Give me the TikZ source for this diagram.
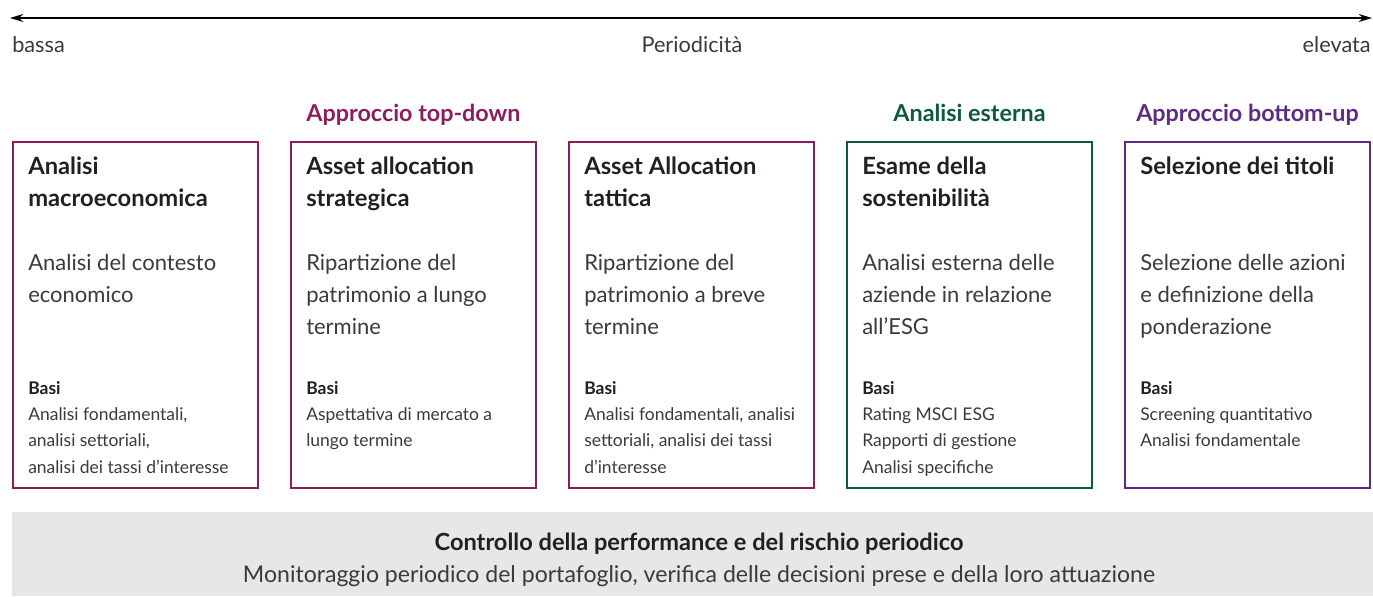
\documentclass[tikz,border=0pt]{standalone}
\usepackage{fontspec}
\setmainfont{Lato}
\usetikzlibrary{positioning,arrows.meta}
\definecolor{topdown}{HTML}{8C1D5B}
\definecolor{esterna}{HTML}{0B5A3D}
\definecolor{bottomup}{HTML}{5E2A84}
\definecolor{band}{HTML}{E6E7E8}
\definecolor{ink}{HTML}{231F20}
\definecolor{soft}{HTML}{3A3A3A}
\newcommand\righe[1]{\parbox[t]{200pt}{\raggedright #1}}
\begin{document}
\begin{tikzpicture}
[x=0.75pt,y=-0.75pt,
box/.style={draw=#1,line width=1.5pt,minimum width=183.75pt,minimum height=259.5pt,inner sep=0pt},
head/.style={text=#1,font=\fontsize{17.5}{24}\selectfont\bfseries,inner sep=0pt,anchor=base},
title/.style={text=ink,font=\fontsize{17.8}{24}\selectfont\bfseries,inner sep=0pt,anchor=base west},
desc/.style={text=soft,font=\fontsize{16.5}{24}\selectfont,inner sep=0pt,anchor=base west},
basi/.style={text=ink,font=\fontsize{13.1}{20}\selectfont\bfseries,inner sep=0pt,anchor=base west},
fonti/.style={text=soft,font=\fontsize{13.1}{20}\selectfont,inner sep=0pt,anchor=base west},
lab/.style={text=soft,font=\fontsize{16.3}{24}\selectfont,inner sep=0pt}]
\useasboundingbox (0,0) rectangle (1373,596);
% asse della periodicita
\coordinate (lo) at (10,18); \coordinate (hi) at (1372,18);
\draw[line width=1.1pt,{Stealth[length=10pt,width=6pt]}-{Stealth[length=10pt,width=6pt]}] (lo) -- (hi);
\node[lab,anchor=base west] (bassa) at (12,52) {bassa};
\node[lab,anchor=base] (per) at (692,52) {Periodicità};
\node[lab,anchor=base east] (elev) at (1371,52) {elevata};
% le cinque fasi
\node[box=topdown,anchor=north west] (mac) at (12,141) {};
\node[box=topdown,right=23.25pt of mac] (saa) {};
\node[box=topdown,right=23.25pt of saa] (taa) {};
\node[box=esterna,right=23.25pt of taa] (sos) {};
\node[box=bottomup,right=23.25pt of sos] (sel) {};
\node[head=topdown] (htd) at ([shift={(0,-20)}]saa.north) {Approccio top-down};
\node[head=esterna] (hes) at ([shift={(0,-20)}]sos.north) {Analisi esterna};
\node[head=bottomup] (hbu) at ([shift={(0,-20)}]sel.north) {Approccio bottom-up};
% testi
\node[title] (mac1) at ([shift={(16,33)}]mac.north west) {\righe{Analisi\\macroeconomica}};
\node[desc] (mac2) at ([shift={(16,129)}]mac.north west) {\righe{Analisi del contesto\\economico}};
\node[basi] (mac3) at ([shift={(16,253)}]mac.north west) {Basi};
\node[fonti] (mac4) at ([shift={(16,279)}]mac.north west) {\righe{Analisi fondamentali,\\analisi settoriali,\\analisi dei tassi d’interesse}};
\node[title] (saa1) at ([shift={(16,33)}]saa.north west) {\righe{Asset allocation\\strategica}};
\node[desc] (saa2) at ([shift={(16,129)}]saa.north west) {\righe{Ripartizione del\\patrimonio a lungo\\termine}};
\node[basi] (saa3) at ([shift={(16,253)}]saa.north west) {Basi};
\node[fonti] (saa4) at ([shift={(16,279)}]saa.north west) {\righe{Aspettativa di mercato a\\lungo termine}};
\node[title] (taa1) at ([shift={(16,33)}]taa.north west) {\righe{Asset Allocation\\tattica}};
\node[desc] (taa2) at ([shift={(16,129)}]taa.north west) {\righe{Ripartizione del\\patrimonio a breve\\termine}};
\node[basi] (taa3) at ([shift={(16,253)}]taa.north west) {Basi};
\node[fonti] (taa4) at ([shift={(16,279)}]taa.north west) {\righe{Analisi fondamentali, analisi\\settoriali, analisi dei tassi\\d’interesse}};
\node[title] (sos1) at ([shift={(16,33)}]sos.north west) {\righe{Esame della\\sostenibilità}};
\node[desc] (sos2) at ([shift={(16,129)}]sos.north west) {\righe{Analisi esterna delle\\aziende in relazione\\all’ESG}};
\node[basi] (sos3) at ([shift={(16,253)}]sos.north west) {Basi};
\node[fonti] (sos4) at ([shift={(16,279)}]sos.north west) {\righe{Rating MSCI ESG\\Rapporti di gestione\\Analisi specifiche}};
\node[title] (sel1) at ([shift={(16,33)}]sel.north west) {Selezione dei titoli};
\node[desc] (sel2) at ([shift={(16,129)}]sel.north west) {\righe{Selezione delle azioni\\e definizione della\\ponderazione}};
\node[basi] (sel3) at ([shift={(16,253)}]sel.north west) {Basi};
\node[fonti] (sel4) at ([shift={(16,279)}]sel.north west) {\righe{Screening quantitativo\\Analisi fondamentale}};
% controllo
\fill[band] (12,512) rectangle (1373,596);
\node[title,font=\fontsize{17.7}{24}\selectfont\bfseries,anchor=base] (ctrl) at (699,550) {Controllo della performance e del rischio periodico};
\node[desc,font=\fontsize{17.3}{24}\selectfont,anchor=base] (mon) at (699,582) {Monitoraggio periodico del portafoglio, verifica delle decisioni prese e della loro attuazione};
\end{tikzpicture}
\end{document}
